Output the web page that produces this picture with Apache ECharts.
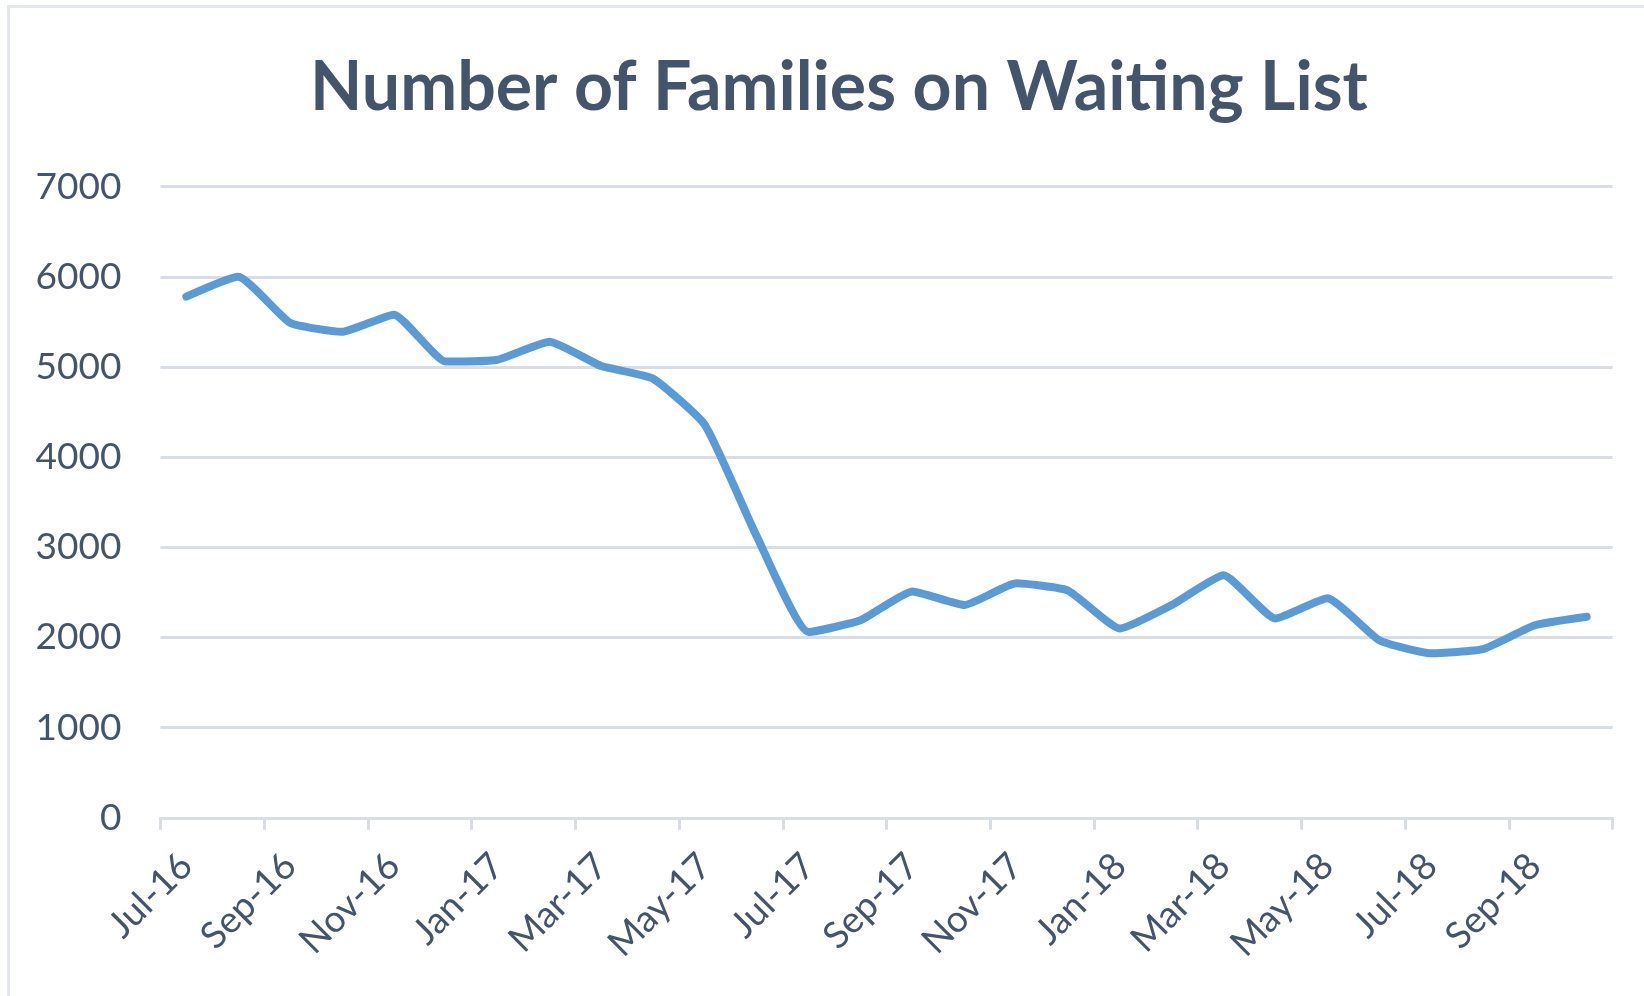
<!DOCTYPE html>
<html>
<head>
<meta charset="utf-8">
<title>Number of Families on Waiting List</title>
<script src="https://cdn.jsdelivr.net/npm/echarts@6/dist/echarts.min.js"></script>
<style>
  html, body { margin: 0; padding: 0; background: #fff; }
  #chart { width: 1644px; height: 996px; }
</style>
</head>
<body>
<div id="chart"></div>
<script>
const months = [
  'Jul-16', 'Aug-16', 'Sep-16', 'Oct-16', 'Nov-16', 'Dec-16',
  'Jan-17', 'Feb-17', 'Mar-17', 'Apr-17', 'May-17', 'Jun-17',
  'Jul-17', 'Aug-17', 'Sep-17', 'Oct-17', 'Nov-17', 'Dec-17',
  'Jan-18', 'Feb-18', 'Mar-18', 'Apr-18', 'May-18', 'Jun-18',
  'Jul-18', 'Aug-18', 'Sep-18', 'Oct-18'
]
const families = [
  5780, 6000, 5490, 5390, 5580, 5060,
  5080, 5280, 5010, 4870, 4355, 3120,
  2060, 2190, 2510, 2360, 2600, 2520,
  2100, 2360, 2690, 2210, 2435, 1970,
  1825, 1870, 2135, 2230
]
const yTicks = [0, 1000, 2000, 3000, 4000, 5000, 6000, 7000]

const textColor = '#44546A'
const gridColor = '#D9DEE6'

const chart = echarts.init(document.getElementById('chart'))

chart.setOption({
  animation: false,
  graphic: [
    {
      type: 'rect',
      shape: { x: 8.5, y: 6.5, width: 1700, height: 1100 },
      style: { fill: 'none', stroke: '#E3E7EC', lineWidth: 3 },
      silent: true
    }
  ],
  title: {
    text: 'Number of Families on Waiting List',
    left: 834,
    top: 49,
    textAlign: 'center',
    textStyle: {
      fontFamily: 'Lato',
      fontWeight: 'bold',
      fontSize: 68,
      color: textColor
    }
  },
  grid: { left: 160.4, right: 31.4, top: 186.6, bottom: 178.2 },
  xAxis: {
    type: 'category',
    data: months,
    boundaryGap: true,
    axisLine: { lineStyle: { color: gridColor, width: 3 } },
    axisTick: { show: true, interval: 1, length: 12, lineStyle: { color: gridColor, width: 3 } },
    axisLabel: {
      interval: 1,
      rotate: 45,
      margin: 42,
      fontFamily: 'Lato',
      fontSize: 37,
      color: textColor
    }
  },
  yAxis: {
    type: 'value',
    min: yTicks[0],
    max: yTicks[yTicks.length - 1],
    interval: 1000,
    axisLine: { show: false },
    axisTick: { show: false },
    axisLabel: {
      margin: 39,
      fontFamily: 'Lato',
      fontSize: 37,
      color: textColor,
      formatter: v => String(v)
    },
    splitLine: { lineStyle: { color: gridColor, width: 3 } }
  },
  series: [
    {
      type: 'line',
      data: families,
      smooth: 0.15,
      symbol: 'none',
      lineStyle: { color: '#5B9BD5', width: 8, cap: 'round' }
    }
  ]
})
</script>
</body>
</html>
